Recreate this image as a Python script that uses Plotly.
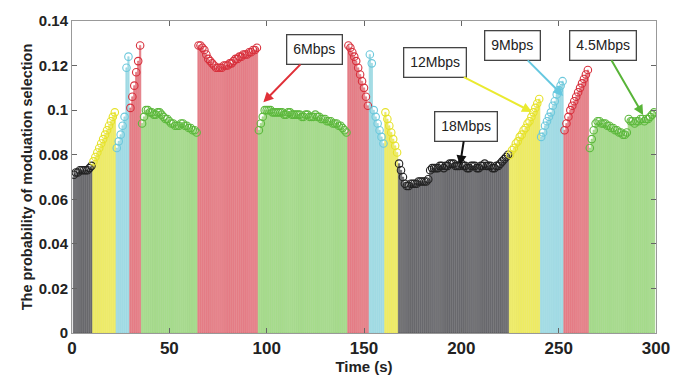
import plotly.graph_objects as go

# ---- data: modulation mode chosen each second and its selection probability ----
seg_modes = ["18Mbps", "12Mbps", "9Mbps", "6Mbps", "4.5Mbps", "6Mbps", "4.5Mbps",
             "6Mbps", "9Mbps", "12Mbps", "18Mbps", "12Mbps", "9Mbps", "6Mbps", "4.5Mbps"]

black1 = [0.071, 0.072, 0.072, 0.073, 0.073, 0.073, 0.073, 0.073, 0.074, 0.075]
yellow1 = [0.077, 0.079, 0.081, 0.083, 0.085, 0.087, 0.089, 0.091, 0.093, 0.095, 0.097, 0.099]
cyan1 = [0.083, 0.086, 0.089, 0.093, 0.097, 0.119, 0.124]
red1 = [0.101, 0.106, 0.111, 0.117, 0.122, 0.129]
green1 = [0.094, 0.097, 0.100, 0.100, 0.099, 0.099, 0.098, 0.098, 0.099, 0.099,
          0.098, 0.097, 0.096, 0.096, 0.095, 0.094, 0.094, 0.093, 0.093, 0.093,
          0.094, 0.094, 0.093, 0.093, 0.092, 0.092, 0.091, 0.091, 0.090]
red2 = [0.129, 0.129, 0.128, 0.127, 0.125, 0.123, 0.122, 0.121, 0.120, 0.119,
        0.119, 0.119, 0.119, 0.120, 0.120, 0.120, 0.121, 0.121, 0.122, 0.123,
        0.123, 0.124, 0.124, 0.125, 0.125, 0.125, 0.126, 0.126, 0.127, 0.127, 0.128]
green2 = [0.091, 0.094, 0.097, 0.100, 0.100, 0.100, 0.100, 0.099, 0.099, 0.099,
          0.099, 0.099, 0.099, 0.098, 0.098, 0.099, 0.099, 0.098, 0.098, 0.098,
          0.098, 0.098, 0.097, 0.097, 0.098, 0.098, 0.097, 0.097, 0.097, 0.098,
          0.097, 0.097, 0.096, 0.096, 0.096, 0.095, 0.095, 0.095, 0.094, 0.094,
          0.094, 0.093, 0.093, 0.092, 0.091, 0.090]
red3 = [0.129, 0.128, 0.126, 0.124, 0.122, 0.119, 0.116, 0.113, 0.110, 0.106, 0.102]
cyan2 = [0.125, 0.121, 0.100, 0.097, 0.094, 0.091, 0.088, 0.085]
yellow2 = [0.099, 0.096, 0.093, 0.090, 0.087, 0.084, 0.081]
black2 = [0.076, 0.073, 0.070, 0.067, 0.066, 0.066, 0.067, 0.067, 0.067, 0.067,
          0.068, 0.068, 0.068, 0.068, 0.068, 0.069,
          0.073, 0.074, 0.074, 0.074, 0.074, 0.075, 0.075, 0.074, 0.075, 0.075,
          0.076, 0.076, 0.076, 0.075, 0.075, 0.075, 0.076, 0.075, 0.075, 0.074,
          0.074, 0.075, 0.075, 0.075, 0.074, 0.074, 0.075, 0.075, 0.076, 0.075,
          0.075, 0.075, 0.074, 0.074, 0.075, 0.075, 0.076, 0.077, 0.078, 0.079, 0.080]
yellow3 = [0.080, 0.082, 0.083, 0.085, 0.086, 0.088, 0.089, 0.091, 0.092, 0.094,
           0.095, 0.097, 0.099, 0.101, 0.103, 0.105]
cyan3 = [0.088, 0.090, 0.093, 0.095, 0.097, 0.099, 0.102, 0.104, 0.107, 0.109, 0.111, 0.113]
red4 = [0.091, 0.094, 0.097, 0.100, 0.102, 0.104, 0.106, 0.108, 0.110, 0.112, 0.114, 0.116, 0.118]
green3 = [0.083, 0.087, 0.091, 0.094, 0.095, 0.095, 0.094, 0.094, 0.094, 0.093,
          0.093, 0.092, 0.092, 0.091, 0.091, 0.090, 0.090, 0.089, 0.089, 0.090,
          0.096, 0.095, 0.095, 0.094, 0.095, 0.095, 0.096, 0.096, 0.095, 0.096,
          0.096, 0.097, 0.098, 0.099]

seg_values = [black1, yellow1, cyan1, red1, green1, red2, green2, red3, cyan2,
              yellow2, black2, yellow3, cyan3, red4, green3]

x_ticks = [0, 50, 100, 150, 200, 250, 300]
y_ticks = [0, 0.02, 0.04, 0.06, 0.08, 0.1, 0.12, 0.14]
y_tick_text = ["0", "0.02", "0.04", "0.06", "0.08", "0.1", "0.12", "0.14"]

# ---- styles ----
pale = {"18Mbps": "#77777b", "12Mbps": "#f3f172", "9Mbps": "#abdfe8",
        "6Mbps": "#ea8a92", "4.5Mbps": "#b2e29a"}
edge = {"18Mbps": "#444448", "12Mbps": "#e2de3a", "9Mbps": "#84cfdb",
        "6Mbps": "#d95a65", "4.5Mbps": "#86c866"}
mark = {"18Mbps": "#222222", "12Mbps": "#e6e22a", "9Mbps": "#6cc8dc",
        "6Mbps": "#d8303c", "4.5Mbps": "#5cb83c"}

FONT = "Liberation Sans"

fig = go.Figure()
t = 1
for mode, vals in zip(seg_modes, seg_values):
    xs = list(range(t, t + len(vals)))
    t += len(vals)
    fig.add_trace(go.Bar(x=xs, y=vals, width=0.74,
                         marker=dict(color=pale[mode], line=dict(color=edge[mode], width=0.5)),
                         showlegend=False, hoverinfo="x+y"))
    fig.add_trace(go.Scatter(x=xs, y=vals, mode="markers",
                             marker=dict(symbol="circle-open", size=7.5,
                                         line=dict(color=mark[mode], width=1.1),
                                         color=mark[mode]),
                             showlegend=False, hoverinfo="skip"))

def label(text, tip_x, tip_y, box_x, box_y, color):
    fig.add_annotation(x=tip_x, y=tip_y, ax=box_x, ay=box_y, axref="x", ayref="y",
                       xref="x", yref="y", text=text, showarrow=True,
                       arrowhead=2, arrowsize=1, arrowwidth=2, arrowcolor=color,
                       font=dict(family="Arial", size=14, color="#222", weight="normal"),
                       bgcolor="white", bordercolor="#444", borderwidth=1.3, borderpad=6)

label("6Mbps", 98.3, 0.1035, 124.8, 0.1272, "#e03038")
label("12Mbps", 236.3, 0.0992, 186.4, 0.1215, "#eaea30")
label("18Mbps", 199.3, 0.0752, 202.4, 0.0927, "#111111")
label("9Mbps", 252.3, 0.1064, 226.5, 0.1290, "#66c8e0")
label("4.5Mbps", 293.4, 0.0978, 272.7, 0.1290, "#58b438")

fig.update_layout(
    width=686, height=381,
    margin=dict(l=72, r=30, t=12, b=44),
    plot_bgcolor="white", paper_bgcolor="white",
    barmode="overlay",
    font=dict(family=FONT, color="#222"),
)
fig.update_xaxes(range=[0, 300], tickvals=x_ticks, ticks="inside", ticklen=5,
                 tickcolor="#666", showline=True, linecolor="#999", mirror="ticks",
                 showgrid=False, zeroline=False,
                 tickfont=dict(family=FONT, size=17, weight="bold", color="#222"),
                 title=dict(text="Time (s)", standoff=0,
                            font=dict(family=FONT, size=15, weight="bold", color="#222")))
fig.update_yaxes(range=[0, 0.14], tickvals=y_ticks, ticktext=y_tick_text,
                 ticks="inside", ticklen=5, tickcolor="#666", showline=True,
                 linecolor="#999", mirror="ticks", showgrid=False, zeroline=False,
                 tickfont=dict(family=FONT, size=15, weight="bold", color="#222"),
                 title=dict(text="The probability of moduation selection", standoff=2,
                            font=dict(family=FONT, size=14.5, weight="bold", color="#222")))

fig.write_html("out.html")
